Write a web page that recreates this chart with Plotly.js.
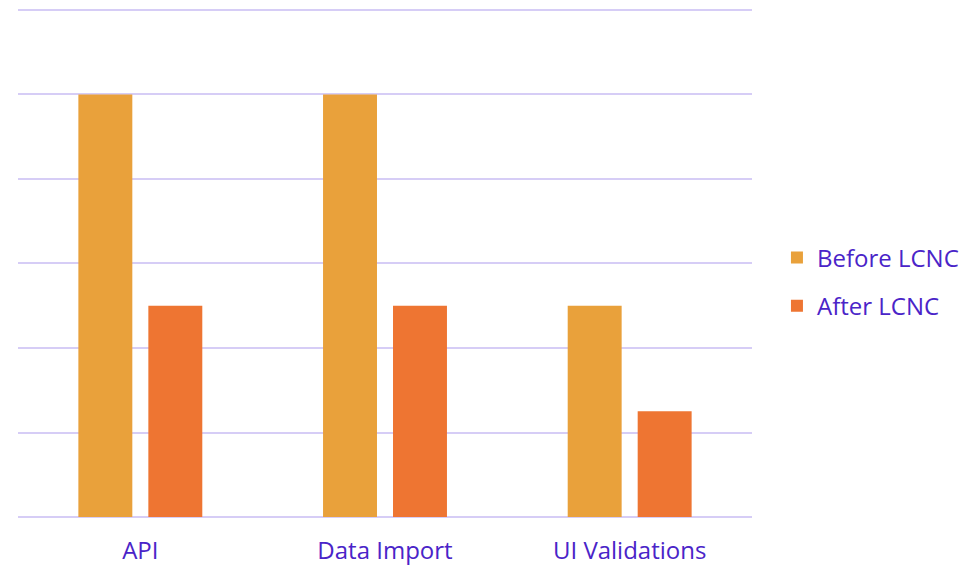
<!DOCTYPE html>
<html>
<head>
<meta charset="utf-8">
<script src="https://cdn.plot.ly/plotly-3.0.1.min.js"></script>
<style>html,body{margin:0;padding:0;background:#fff;}#chart{width:971px;height:566px;}</style>
</head>
<body>
<div id="chart"></div>
<script>
const categories = ["API", "Data Import", "UI Validations"];
const beforeLCNC = [5, 5, 2.5];
const afterLCNC = [2.5, 2.5, 1.25];
const seriesNames = ["Before LCNC", "After LCNC"];

const textColor = "#4a24c8";
const gridColor = "#d6cdf6";

const traces = [
  {type: "bar", name: seriesNames[0], x: categories, y: beforeLCNC, legendgroup: "a",
   marker: {color: "#e9a13b"}, hoverinfo: "x+y+name"},
  {type: "bar", name: seriesNames[1], x: categories, y: afterLCNC, legendgroup: "b",
   marker: {color: "#ee7532"}, hoverinfo: "x+y+name"}
];

const layout = {
  width: 971, height: 566,
  margin: {l: 18, r: 219, t: 6, b: 49, pad: 0},
  paper_bgcolor: "#fff", plot_bgcolor: "#fff",
  font: {family: "Open Sans, sans-serif", size: 24, color: textColor},
  barmode: "group",
  bargap: 0.428,
  bargroupgap: 0.229,
  xaxis: {showgrid: false, zeroline: false, showline: false, ticks: "",
          ticklabelstandoff: 17,
          tickfont: {size: 24, color: textColor}},
  yaxis: {range: [0, 6.047], dtick: 1, showticklabels: false, showgrid: true,
          gridcolor: gridColor, gridwidth: 2, zeroline: true, zerolinecolor: gridColor,
          zerolinewidth: 2, fixedrange: true},
  legend: {x: 1.034, xanchor: "left", y: 0.46, yanchor: "middle",
           font: {size: 24, color: textColor}, tracegroupgap: 14,
           traceorder: "grouped", itemwidth: 30}
};

Plotly.newPlot("chart", traces, layout, {displayModeBar: false, staticPlot: true});
</script>
</body>
</html>
